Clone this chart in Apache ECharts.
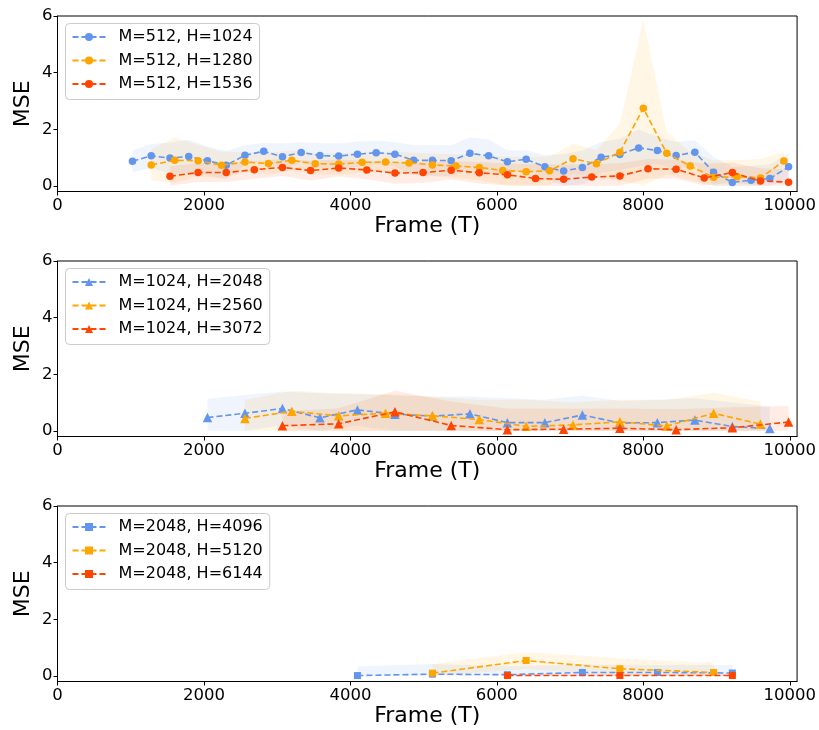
<!DOCTYPE html>
<html><head><meta charset="utf-8">
<script src="https://cdn.jsdelivr.net/npm/echarts@6/dist/echarts.min.js"></script>
<style>html,body{margin:0;padding:0;background:#fff}#c{width:819px;height:730px}</style>
</head><body><div id="c"></div>
<script>
// ---------- Panel 1 (M=512) ----------
const p1BlueX = [1024,1280,1536,1792,2048,2304,2560,2816,3072,3328,3584,3840,4096,4352,4608,4864,5120,5376,5632,5888,6144,6400,6656,6912,7168,7424,7680,7936,8192,8448,8704,8960,9216,9472,9728,9984];
const p1BlueY = [0.87,1.06,0.98,1.04,0.89,0.73,1.08,1.22,1.03,1.18,1.07,1.05,1.12,1.17,1.12,0.90,0.90,0.89,1.15,1.06,0.85,0.94,0.67,0.52,0.65,1.01,1.11,1.34,1.25,1.07,1.19,0.48,0.12,0.20,0.26,0.67];
const p1BlueSd = [0.39,0.42,0.55,0.59,0.50,0.50,0.35,0.29,0.47,0.36,0.44,0.45,0.45,0.42,0.42,0.53,0.54,0.54,0.56,0.58,0.41,0.32,0.41,0.60,0.60,0.54,0.55,0.65,0.48,0.48,0.42,0.54,0.55,0.50,0.50,0.47];
const p1OrangeX = [1280,1600,1920,2240,2560,2880,3200,3520,3840,4160,4480,4800,5120,5440,5760,6080,6400,6720,7040,7360,7680,8000,8320,8640,8960,9280,9600,9920];
const p1OrangeY = [0.74,0.90,0.89,0.73,0.84,0.79,0.90,0.78,0.77,0.83,0.84,0.81,0.74,0.70,0.65,0.54,0.50,0.53,0.96,0.78,1.19,2.74,1.15,0.70,0.30,0.32,0.28,0.88];
const p1OrangeSd = [0.55,0.81,0.55,0.47,0.35,0.38,0.35,0.38,0.38,0.36,0.36,0.37,0.40,0.42,0.45,0.50,0.52,0.50,0.54,0.48,1.00,3.12,0.75,0.50,0.60,0.58,0.67,0.32];
const p1RedX = [1536,1920,2304,2688,3072,3456,3840,4224,4608,4992,5376,5760,6144,6528,6912,7296,7680,8064,8448,8832,9216,9600,9984];
const p1RedY = [0.34,0.47,0.47,0.57,0.65,0.54,0.63,0.56,0.45,0.47,0.55,0.46,0.39,0.26,0.23,0.31,0.35,0.60,0.59,0.28,0.47,0.17,0.13];
const p1RedSd = [0.35,0.33,0.33,0.32,0.30,0.35,0.30,0.33,0.38,0.37,0.33,0.38,0.40,0.50,0.52,0.45,0.45,0.35,0.33,0.50,0.35,0.45,0.45];

// ---------- Panel 2 (M=1024) ----------
const p2BlueX = [2048,2560,3072,3584,4096,4608,5120,5632,6144,6656,7168,7680,8192,8704,9216,9728];
const p2BlueY = [0.47,0.62,0.79,0.46,0.74,0.59,0.52,0.60,0.29,0.29,0.56,0.28,0.29,0.38,0.15,0.08];
const p2BlueSd = [0.66,0.65,0.60,0.87,0.56,0.66,0.68,0.61,0.86,0.81,0.69,0.77,0.81,0.77,0.85,0.78];
const p2OrangeX = [2560,3200,3840,4480,5120,5760,6400,7040,7680,8320,8960,9600];
const p2OrangeY = [0.44,0.69,0.53,0.62,0.53,0.40,0.16,0.21,0.32,0.17,0.62,0.24];
const p2OrangeSd = [0.65,0.73,0.80,0.68,0.67,0.70,0.94,0.79,0.78,0.93,0.73,0.79];
const p2RedX = [3072,3840,4608,5376,6144,6912,7680,8448,9216,9984];
const p2RedY = [0.18,0.25,0.67,0.19,0.04,0.06,0.09,0.04,0.11,0.31];
const p2RedSd = [0.50,0.55,0.75,0.85,0.75,0.72,0.70,0.72,0.72,0.57];

// ---------- Panel 3 (M=2048) ----------
const p3BlueX = [4096,5120,6144,7168,8192,9216];
const p3BlueY = [0.01,0.06,0.04,0.12,0.12,0.10];
const p3BlueSd = [0.32,0.36,0.30,0.28,0.26,0.28];
const p3OrangeX = [5120,6400,7680,8960];
const p3OrangeY = [0.095,0.54,0.25,0.12];
const p3OrangeSd = [0.32,0.30,0.37,0.33];
const p3RedX = [6144,7680,9216];
const p3RedY = [0.01,0.01,0.01];
const p3RedSd = [0.05,0.05,0.05];

// ---------- Labels / ticks ----------
const xTicks = [0,2000,4000,6000,8000,10000];
const yTicks = [0,2,4,6];
const xTitle = 'Frame (T)';
const yTitle = 'MSE';
const names1 = ['M=512, H=1024','M=512, H=1280','M=512, H=1536'];
const names2 = ['M=1024, H=2048','M=1024, H=2560','M=1024, H=3072'];
const names3 = ['M=2048, H=4096','M=2048, H=5120','M=2048, H=6144'];
const colors = ['#6495ED','#FFA500','#FF4500'];
const symbols = ['circle','triangle','rect'];

const FONT = 'DejaVu Sans';
const panelTops = [16, 261, 506];
const panelH = 175.5;

const panels = [
  {names: names1, sets: [[p1BlueX,p1BlueY,p1BlueSd],[p1OrangeX,p1OrangeY,p1OrangeSd],[p1RedX,p1RedY,p1RedSd]]},
  {names: names2, sets: [[p2BlueX,p2BlueY,p2BlueSd],[p2OrangeX,p2OrangeY,p2OrangeSd],[p2RedX,p2RedY,p2RedSd]]},
  {names: names3, sets: [[p3BlueX,p3BlueY,p3BlueSd],[p3OrangeX,p3OrangeY,p3OrangeSd],[p3RedX,p3RedY,p3RedSd]]}
];

function hexA(hex, a) {
  const n = parseInt(hex.slice(1), 16);
  return 'rgba(' + (n >> 16) + ',' + ((n >> 8) & 255) + ',' + (n & 255) + ',' + a + ')';
}

const grids = [], xAxes = [], yAxes = [], legends = [], series = [];
const symSizes = [7.5, 9.5, 7];
panels.forEach((p, gi) => {
  grids.push({left: 57.5, top: panelTops[gi], width: 742.5, height: panelH, show: true, borderColor: '#000', borderWidth: 1, backgroundColor: 'transparent'});
  xAxes.push({
    gridIndex: gi, type: 'value', min: 0, max: 10100,
    axisLine: {show: true, onZero: false, lineStyle: {color: '#000', width: 1}},
    axisTick: {show: true, length: 4, customValues: xTicks, lineStyle: {color: '#000'}},
    axisLabel: {customValues: xTicks, fontSize: 16.5, color: '#000', fontFamily: FONT, margin: 6, formatter: v => String(v)},
    splitLine: {show: false},
    name: xTitle, nameLocation: 'middle', nameGap: 24,
    nameTextStyle: {fontSize: 22, color: '#000', fontFamily: FONT, verticalAlign: 'top'}
  });
  yAxes.push({
    gridIndex: gi, type: 'value', min: -0.2, max: 6,
    axisLine: {show: true, onZero: false, lineStyle: {color: '#000', width: 1}},
    axisTick: {show: true, length: 4, customValues: yTicks, lineStyle: {color: '#000'}},
    axisLabel: {customValues: yTicks, fontSize: 16.5, color: '#000', fontFamily: FONT, margin: 5, formatter: v => String(v)},
    splitLine: {show: false},
    name: yTitle, nameLocation: 'middle', nameGap: 23, nameMoveOverlap: false,
    nameTextStyle: {fontSize: 22, color: '#000', fontFamily: FONT}
  });
  legends.push({
    data: p.names, orient: 'vertical', left: 65.5, top: panelTops[gi] + 7.5,
    itemWidth: 33, itemHeight: 10, itemGap: 7.5,
    padding: [5.5, 7, 7.5, 6],
    borderColor: '#cccccc', borderWidth: 1, borderRadius: 4, backgroundColor: 'rgba(255,255,255,0.8)',
    textStyle: {fontSize: 16, fontFamily: FONT, color: '#000', lineHeight: 10, padding: [0,0,0,8]}
  });
  p.sets.forEach((s, si) => {
    const [xs, ys, sd] = s;
    const lo = xs.map((x, i) => Math.max(ys[i] - sd[i], 0));
    const hi = xs.map((x, i) => ys[i] + sd[i]);
    series.push({
      type: 'custom', name: 'band' + gi + '_' + si, xAxisIndex: gi, yAxisIndex: gi,
      data: xs.map((x, i) => [x, lo[i], hi[i]]),
      encode: {x: 0, y: [1, 2]}, silent: true, z: 1, animation: false,
      renderItem: (params, api) => {
        if (params.dataIndexInside !== 0) return null;
        const pts = [];
        for (let i = 0; i < xs.length; i++) pts.push(api.coord([xs[i], hi[i]]));
        for (let i = xs.length - 1; i >= 0; i--) pts.push(api.coord([xs[i], lo[i]]));
        return {type: 'polygon', shape: {points: pts}, style: {fill: hexA(colors[si], 0.1), stroke: null}};
      }
    });
  });
  p.sets.forEach((s, si) => {
    const [xs, ys] = s;
    series.push({
      type: 'line', name: p.names[si], xAxisIndex: gi, yAxisIndex: gi,
      data: xs.map((x, i) => [x, ys[i]]),
      symbol: symbols[gi], symbolSize: symSizes[gi],
      lineStyle: {color: colors[si], width: 1.6, type: [6, 3]},
      itemStyle: {color: colors[si]}, z: 3 + si, animation: false
    });
  });
});

const chart = echarts.init(document.getElementById('c'), null, {renderer: 'canvas'});
chart.setOption({
  backgroundColor: '#fff', animation: false,
  grid: grids, xAxis: xAxes, yAxis: yAxes, legend: legends, series: series
});
</script>
</body></html>
